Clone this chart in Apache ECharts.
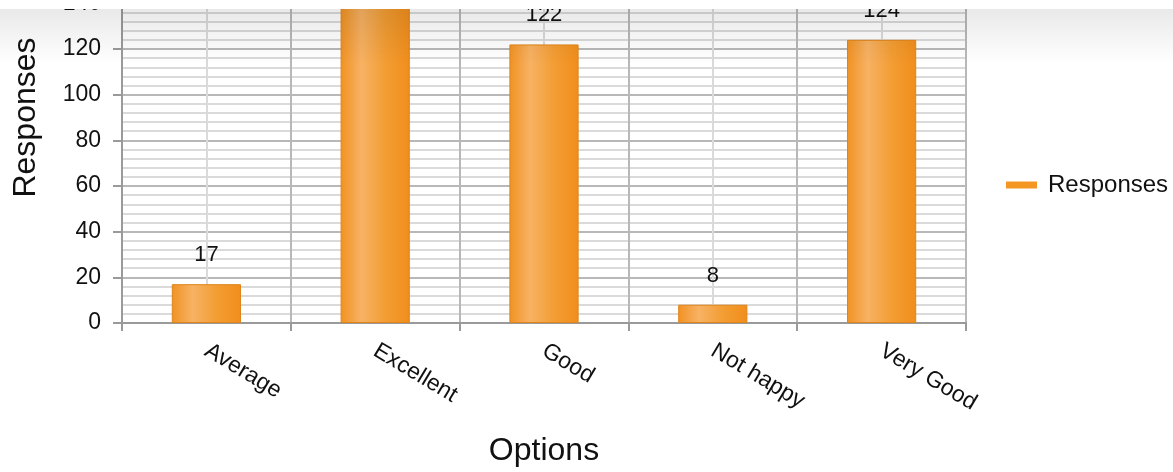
<!DOCTYPE html>
<html>
<head>
<meta charset="utf-8">
<script src="https://cdn.jsdelivr.net/npm/echarts@6/dist/echarts.min.js"></script>
<style>
html,body{margin:0;padding:0;background:#fff;overflow:hidden;}
#wrap{position:relative;width:1173px;height:472px;overflow:hidden;}
#chart{position:absolute;left:0;top:-100px;width:1173px;height:572px;}
#cover{position:absolute;left:0;top:0;width:1173px;height:9px;background:#fff;}
#shade{position:absolute;left:0;top:9px;width:1173px;height:55px;background:linear-gradient(to bottom, rgba(0,0,0,0.085), rgba(0,0,0,0));pointer-events:none;}
</style>
</head>
<body>
<div id="wrap">
<div id="chart"></div>
<div id="cover"></div>
<div id="shade"></div>
</div>
<script>
const categories = ['Average', 'Excellent', 'Good', 'Not happy', 'Very Good'];
const responses = [17, 165, 122, 8, 124];
const seriesName = 'Responses';
const xAxisName = 'Options';
const yAxisName = 'Responses';
const yMax = 180;
const yInterval = 20;

const FONT = "'Liberation Sans', Arial, sans-serif";
const chart = echarts.init(document.getElementById('chart'));

const barGradient = new echarts.graphic.LinearGradient(0, 0, 1, 0, [
  {offset: 0, color: '#f19222'},
  {offset: 0.3, color: '#f7b264'},
  {offset: 0.65, color: '#f39d33'},
  {offset: 1, color: '#f18e1c'}
]);

chart.setOption({
  animation: false,
  textStyle: {fontFamily: FONT},
  grid: {left: 122, right: 207, top: 12, bottom: 147, containLabel: false},
  legend: {
    orient: 'vertical',
    left: 1001,
    top: 268,
    itemWidth: 31,
    itemHeight: 7,
    icon: 'rect',
    itemStyle: {borderWidth: 0},
    textStyle: {fontFamily: FONT, fontSize: 24, color: '#111', padding: [0, 0, 0, 6]},
    data: [{name: seriesName, itemStyle: {color: '#f39622', borderWidth: 0}}]
  },
  xAxis: [{
    type: 'category',
    data: categories,
    name: xAxisName,
    nameLocation: 'middle',
    nameGap: 112,
    nameTextStyle: {fontFamily: FONT, fontSize: 32, color: '#111'},
    axisLine: {lineStyle: {color: '#9a9a9a', width: 2}},
    axisTick: {show: true, length: 8, lineStyle: {color: '#9a9a9a', width: 2}},
    axisLabel: {rotate: -31, margin: 26, fontFamily: FONT, fontSize: 23, color: '#111'},
    splitLine: {show: false}
  }, {
    type: 'value',
    position: 'top',
    min: 0,
    max: 10,
    interval: 1,
    axisLine: {show: false},
    axisTick: {show: false},
    axisLabel: {show: false},
    splitLine: {show: true, lineStyle: {color: ['#b8b8b8', '#dadada'], width: 2}}
  }],
  yAxis: {
    type: 'value',
    min: 0,
    max: yMax,
    interval: yInterval,
    name: yAxisName,
    nameLocation: 'middle',
    nameGap: 80,
    nameTextStyle: {fontFamily: FONT, fontSize: 32, color: '#111'},
    axisLine: {show: true, lineStyle: {color: '#9a9a9a', width: 2}},
    axisTick: {show: true, length: 9, lineStyle: {color: '#9a9a9a', width: 2}},
    axisLabel: {margin: 21, fontFamily: FONT, fontSize: 23, color: '#111'},
    splitLine: {show: true, lineStyle: {color: '#b8b8b8', width: 2}},
    minorTick: {show: false, splitNumber: 5},
    minorSplitLine: {show: true, lineStyle: {color: '#dadada', width: 2}}
  },
  series: [{
    name: seriesName,
    type: 'bar',
    xAxisIndex: 0,
    data: responses,
    barWidth: '41%',
    itemStyle: {color: barGradient, borderColor: '#e0841a', borderWidth: 1},
    label: {show: true, position: 'top', distance: 18, fontFamily: FONT, fontSize: 22, color: '#111'}
  }]
});
</script>
</body>
</html>
